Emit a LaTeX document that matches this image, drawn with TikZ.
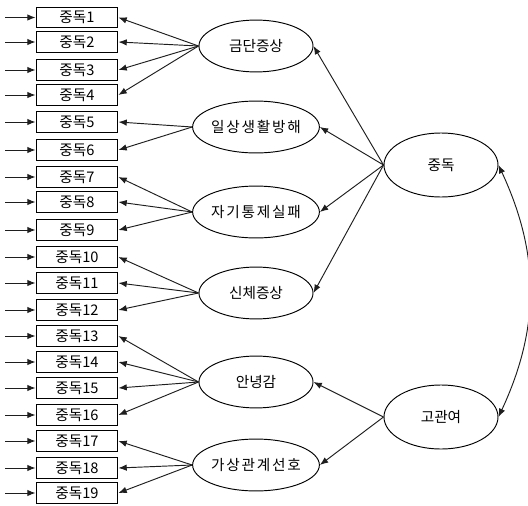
\documentclass[tikz,border=0pt]{standalone}
\usepackage{fontspec}
\newfontfamily\kr{Noto Sans CJK KR}
\newfontfamily\krwide[LetterSpace=12]{Noto Sans CJK KR}
\usetikzlibrary{arrows.meta}
\usetikzlibrary{shapes.geometric}
\tikzset{>={Latex[length=2.2mm,width=1.7mm]}}
\definecolor{linegray}{RGB}{30,30,30}
\tikzstyle{itembox}=[draw=black,line width=0.25mm,minimum width=2.16cm,minimum height=0.53cm,inner sep=0pt,font=\kr\fontsize{11}{13}\selectfont]
\tikzstyle{factor}=[draw=black,line width=0.25mm,ellipse,minimum width=3.01cm,minimum height=1.37cm,inner sep=0pt,font=\kr\fontsize{11}{13}\selectfont]
\tikzstyle{widefactor}=[factor,font=\krwide\fontsize{11}{13}\selectfont]
\tikzstyle{bigfactor}=[factor,minimum height=1.69cm]
\tikzstyle{linkline}=[draw=linegray,line width=0.25mm]

\begin{document}
\begin{tikzpicture}[x=0.0264cm,y=-0.0264cm]
    \useasboundingbox (0,0) rectangle (528,505);
    % observed items
    \foreach \i/\y in {1/17.5,2/42,3/70,4/95,5/122,6/150,7/177,8/202,9/230,10/257,
                       11/283,12/310,13/336,14/362,15/388,16/415,17/441,18/468,19/493}{
    	\node[itembox] (i\i) at (77,\y) {중독\i};
    	\coordinate (e\i) at (5,\y);
    	\draw[linkline,->] (e\i) -- (i\i.west);
    }
    % first order factors
    \node[factor] (f1) at (256,46) {금단증상};
    \node[widefactor] (f2) at (256,127) {일상생활방해};
    \node[widefactor] (f3) at (256,212) {자기통제실패};
    \node[factor] (f4) at (256,293) {신체증상};
    \node[factor] (f5) at (256,382) {안녕감};
    \node[widefactor] (f6) at (256,465) {가상관계선호};
    % second order factors
    \node[bigfactor] (zd) at (441,165) {중독};
    \node[bigfactor] (gk) at (441,417) {고관여};

    \foreach \f/\l in {f1/{1,2,3,4},f2/{5,6},f3/{7,8,9},f4/{10,11,12},f5/{13,14,15,16},f6/{17,18,19}}{
    	\foreach \i in \l
    		\draw[linkline,->] (\f.west) -- (i\i.east);
    }
    \foreach \f in {f1,f2,f3,f4}
    	\draw[linkline,->] (zd.west) -- (\f.east);
    \foreach \f in {f5,f6}
    	\draw[linkline,->] (gk.west) -- (\f.east);
    \draw[linkline,<->] (zd.east) to[bend left=25] (gk.east);
  \end{tikzpicture}
\end{document}
